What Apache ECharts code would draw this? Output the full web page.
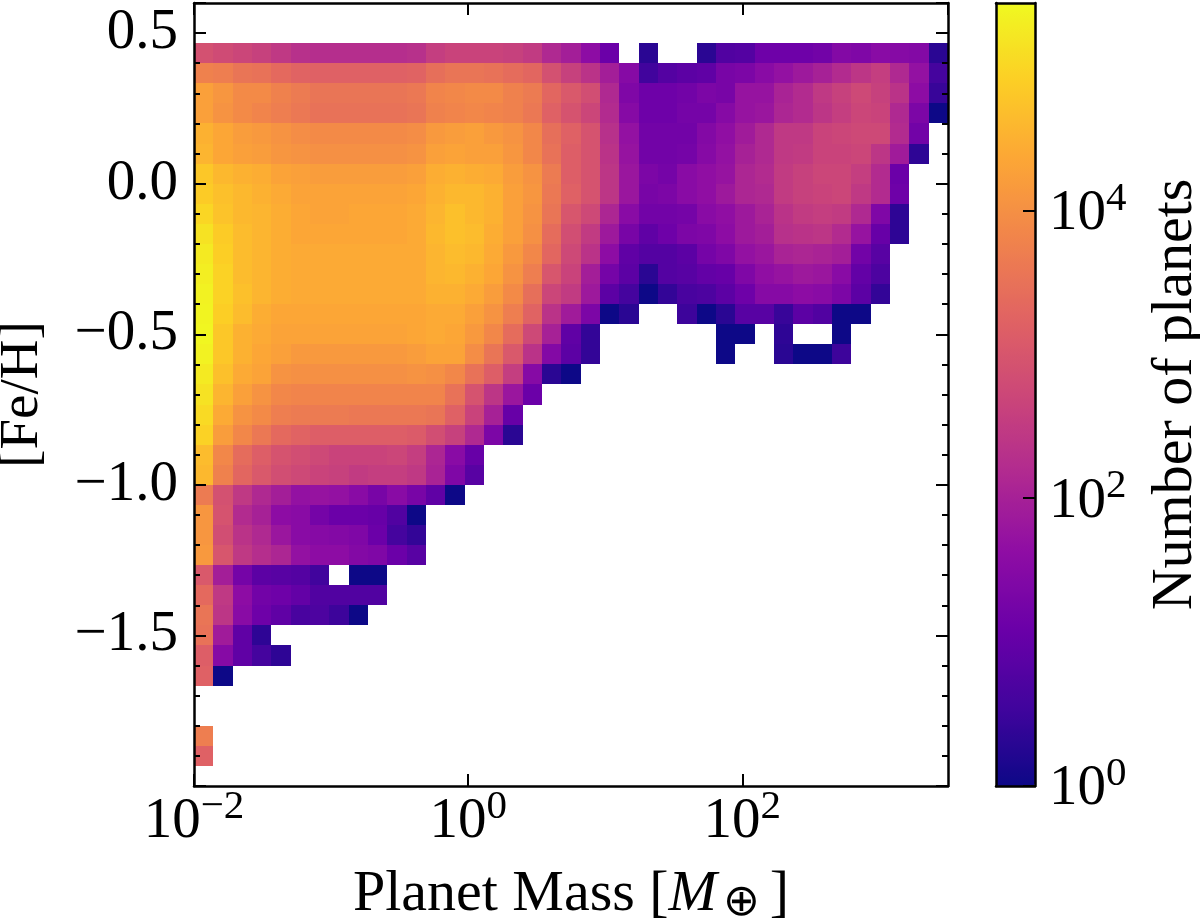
<!DOCTYPE html>
<html><head><meta charset="utf-8">
<style>html,body{margin:0;padding:0;background:#fff}#c{width:1200px;height:923px}</style>
<script src="https://cdn.jsdelivr.net/npm/echarts@6/dist/echarts.min.js"></script>
</head><body><div id="c"></div>
<script>
// log10(number of planets) per cell, one list per [Fe/H] row from the top (0.467) down; columns run from log10(M) = -2
var _ = null;
var row00=[2.9,2.8,2.7,2.6,2.45,2.3,2.25,2.25,2.25,2.25,2.25,2.3,2.55,2.65,2.65,2.65,2.6,2.5,2.15,1.95,1.6,1.1,_,.3,_,_,.3,.75,.8,1.15,1.15,1.15,1.2,1.45,1.4,1.55,1.5,1.45,.3];
var row01=[3.75,3.7,3.55,3.5,3.35,3.25,3.2,3.2,3.2,3.2,3.2,3.25,3.45,3.55,3.55,3.5,3.4,3.3,2.9,2.6,2.35,1.95,1.5,.55,.8,.9,.95,1.3,1.35,1.55,1.7,1.85,2.0,2.2,2.4,2.55,2.15,1.7,.6];
var row02=[4.25,4.1,3.9,3.9,3.75,3.65,3.55,3.55,3.55,3.55,3.55,3.6,3.8,3.85,3.9,3.9,3.75,3.65,3.3,3.05,2.85,2.15,1.4,1.15,1.15,1.2,1.35,1.3,1.75,1.75,2.05,2.2,2.45,2.6,2.75,2.6,2.35,1.6,.45];
var row03=[4.25,4.05,3.9,3.8,3.7,3.6,3.5,3.5,3.5,3.5,3.5,3.55,3.75,3.8,3.85,3.8,3.75,3.6,3.2,2.95,2.7,2.2,1.5,1.15,1.15,1.25,1.25,1.5,1.75,1.8,2.1,2.2,2.4,2.55,2.7,2.65,2.15,1.35,0];
var row04=[4.5,4.35,4.2,4.15,4.05,3.95,3.9,3.9,3.9,3.9,3.9,3.95,4.15,4.2,4.25,4.15,4.05,3.85,3.45,3.2,2.95,2.3,1.7,1.2,1.2,1.2,1.45,1.65,1.9,2.15,2.45,2.45,2.65,2.7,2.75,2.75,2.2,1.2];
var row05=[4.55,4.35,4.25,4.2,4.1,4.05,4.0,4.0,4.0,4.0,4.0,4.05,4.25,4.3,4.25,4.25,4.1,3.85,3.5,3.15,2.95,2.35,1.75,1.2,1.2,1.25,1.5,1.7,2.0,2.15,2.45,2.5,2.65,2.65,2.7,2.4,1.9,.35];
var row06=[4.8,4.6,4.5,4.45,4.3,4.25,4.2,4.2,4.2,4.2,4.2,4.25,4.45,4.5,4.45,4.4,4.2,4.05,3.65,3.15,2.95,2.4,1.8,1.35,1.25,1.55,1.65,1.75,2.1,2.2,2.5,2.6,2.7,2.7,2.55,2.2,1.1];
var row07=[4.85,4.7,4.6,4.5,4.4,4.3,4.3,4.3,4.3,4.3,4.3,4.35,4.5,4.6,4.6,4.5,4.25,4.1,3.6,3.2,2.95,2.4,1.8,1.3,1.35,1.55,1.65,1.85,2.1,2.15,2.5,2.6,2.65,2.7,2.45,2.2,1.15];
var row08=[5.0,4.75,4.6,4.55,4.45,4.35,4.3,4.3,4.35,4.35,4.35,4.4,4.55,4.7,4.6,4.5,4.25,4.05,3.55,3.0,2.75,2.1,1.55,1.2,1.2,1.25,1.55,1.65,1.85,2.05,2.35,2.5,2.55,2.5,2.15,1.4,.35];
var row09=[5.15,4.85,4.65,4.55,4.45,4.35,4.35,4.35,4.35,4.35,4.35,4.4,4.6,4.7,4.65,4.45,4.25,4.0,3.4,2.85,2.5,1.85,1.3,.95,1.15,1.35,1.4,1.6,1.85,1.95,2.3,2.35,2.4,2.2,1.75,1.05,.35];
var row10=[5.25,4.9,4.65,4.55,4.45,4.4,4.4,4.4,4.4,4.4,4.4,4.4,4.55,4.65,4.6,4.4,4.15,3.85,3.3,2.75,2.35,1.6,.95,.8,.8,.9,1.25,1.4,1.7,1.8,2.05,2.1,2.05,1.95,1.2,.85];
var row11=[5.3,4.95,4.65,4.55,4.45,4.4,4.4,4.4,4.4,4.4,4.4,4.4,4.55,4.6,4.5,4.35,4.05,3.7,3.0,2.65,1.95,1.25,.9,.3,.8,.85,1.0,1.05,1.4,1.65,1.75,1.85,1.8,1.55,1.0,.7];
var row12=[5.35,4.95,4.7,4.55,4.45,4.4,4.4,4.4,4.4,4.4,4.4,4.4,4.5,4.5,4.4,4.2,3.9,3.45,2.7,2.5,1.85,.9,.6,0,.4,.65,.7,.9,1.15,1.5,1.5,1.6,1.55,1.35,.9,.4];
var row13=[5.38,4.9,4.65,4.45,4.35,4.35,4.35,4.35,4.35,4.35,4.35,4.35,4.4,4.4,4.25,4.05,3.7,3.25,2.35,1.9,1.35,0,.3,_,_,.5,0,.3,.85,.85,.45,.9,.75,0,0];
var row14=[5.4,4.8,4.5,4.4,4.3,4.3,4.3,4.3,4.3,4.3,4.3,4.35,4.4,4.35,4.15,3.85,3.4,2.75,2.0,.95,.4,_,_,_,_,_,_,0,0,_,.35,_,_,0];
var row15=[5.35,4.8,4.5,4.35,4.25,4.15,4.15,4.15,4.15,4.15,4.15,4.2,4.3,4.3,3.95,3.55,3.05,2.35,1.45,.9,.4,_,_,_,_,_,_,0,_,_,.3,0,0,.5];
var row16=[5.25,4.7,4.4,4.3,4.05,4.0,4.0,4.0,4.0,4.0,4.0,4.05,4.0,3.85,3.5,3.15,2.55,1.5,.3,0];
var row17=[5.15,4.55,4.25,4.05,3.85,3.8,3.8,3.8,3.8,3.8,3.8,3.8,3.8,3.5,2.95,2.4,1.8,1.1];
var row18=[5.05,4.4,4.05,3.9,3.7,3.65,3.65,3.65,3.6,3.6,3.6,3.6,3.55,3.2,2.65,2.0,1.05];
var row19=[4.95,4.2,3.85,3.6,3.35,3.25,3.15,3.15,3.15,3.15,3.15,3.1,2.85,2.6,2.15,1.35,.3];
var row20=[4.65,3.85,3.4,3.15,2.95,2.85,2.75,2.65,2.65,2.65,2.7,2.55,2.1,1.55,1.05];
var row21=[4.6,3.75,3.3,3.05,2.85,2.75,2.65,2.6,2.5,2.55,2.55,2.45,2.05,1.4,.85];
var row22=[3.65,2.9,2.45,2.15,1.95,1.7,1.75,1.7,1.55,1.3,1.55,1.3,.95,0];
var row23=[4.1,2.95,2.2,2.0,1.6,1.55,1.25,1.1,1.1,1.05,.75,0];
var row24=[4.1,2.85,2.35,2.15,1.8,1.55,1.5,1.45,1.4,1.1,.6,.4];
var row25=[4.15,3.0,2.45,2.25,2.1,1.7,1.6,1.6,1.45,1.4,1.1,.85];
var row26=[3.05,1.95,1.25,.9,.85,.8,.55,_,0,0];
var row27=[3.35,2.45,1.6,1.2,1.15,1.0,.75,.75,.75,.75];
var row28=[3.55,2.4,1.55,1.15,.95,.65,.7,.5,0];
var row29=[3.5,1.9,.95,.35];
var row30=[3.15,1.5,.95,.6,.35];
var row31=[3.2,0];
var row32=[];
var row33=[];
var row34=[3.7];
var row35=[3.2];
var rows=[row00,row01,row02,row03,row04,row05,row06,row07,row08,row09,row10,row11,row12,row13,row14,row15,row16,row17,row18,row19,row20,row21,row22,row23,row24,row25,row26,row27,row28,row29,row30,row31,row32,row33,row34,row35];

var xTickLabels={'0.01':'{n|10}{s|−2}','1':'{n|10}{s|0}','100':'{n|10}{s|2}'};
var yTickLabels={'0.5':'0.5','0':'0.0','-0.5':'−0.5','-1':'−1.0','-1.5':'−1.5'};
var cbTickLabels={'1':'{n|10}{s|0}','100':'{n|10}{s|2}','10000':'{n|10}{s|4}'};
var plasma=['#0d0887','#41049d','#6a00a8','#8f0da4','#b12a90','#cc4778','#e16462','#f1844b','#fca636','#fcce25','#f0f921'];

var logMassMin=-2, logMassMax=3.5, feMin=-2, feMax=0.6, binCount=39, logCountMax=5.44;
var dx=(logMassMax-logMassMin)/binCount, dy=(feMax-feMin)/binCount, topEdge=feMin+37*dy;
var cells=[];
rows.forEach(function(r,i){r.forEach(function(v,j){
  if(v===null)return;
  cells.push([Math.pow(10,logMassMin+j*dx),Math.pow(10,logMassMin+(j+1)*dx),topEdge-(i+1)*dy,topEdge-i*dy,v]);
});});

var serif='"Liberation Serif","Times New Roman",serif', black='#000';
var rich={n:{fontFamily:serif,fontSize:57,lineHeight:64,color:black,verticalAlign:'bottom'},
          s:{fontFamily:serif,fontSize:41,lineHeight:36,color:black,verticalAlign:'top'}};
function lineS(w){return {show:true,onZero:false,lineStyle:{color:black,width:w}};}
function tick(){return {show:true,inside:true,length:12,lineStyle:{color:black,width:2}};}
function minor(){return {show:true,length:6,splitNumber:5,lineStyle:{color:black,width:2}};}

var chart=echarts.init(document.getElementById('c'),null,{renderer:'canvas'});
chart.setOption({
  animation:false,backgroundColor:'#fff',
  grid:[{left:194,top:3,width:754,height:783,containLabel:false,outerBoundsMode:'none'},
        {left:996,top:3,width:39,height:783,containLabel:false,outerBoundsMode:'none'}],
  visualMap:{type:'continuous',show:true,seriesIndex:0,dimension:4,min:0,max:logCountMax,calculable:false,hoverLink:false,
    left:996,top:3,padding:0,itemWidth:39,itemHeight:783,text:null,inRange:{color:plasma},z:1},
  xAxis:[
    {type:'log',gridIndex:0,position:'bottom',min:0.01,max:Math.pow(10,logMassMax),interval:2,z:10,
     axisLine:lineS(2.5),axisTick:tick(),splitLine:{show:false},minorTick:{show:false},
     axisLabel:{margin:1,hideOverlap:false,showMaxLabel:false,formatter:function(v){return xTickLabels[String(+(+v).toPrecision(4))]||'';},rich:rich},
     name:'{a|Planet Mass [}{i|M}{o|⊕}{b|]}',nameLocation:'middle',nameGap:78,
     nameTextStyle:{rich:{a:{fontFamily:serif,fontSize:58,color:black},b:{fontFamily:serif,fontSize:58,color:black,padding:[0,0,0,10]},i:{fontFamily:serif,fontStyle:'italic',fontSize:58,color:black},o:{fontFamily:'DejaVu Sans',fontSize:44,color:black,padding:[18,0,0,6]}}}},
    {type:'log',gridIndex:0,position:'top',min:0.01,max:Math.pow(10,logMassMax),interval:2,z:10,
     axisLine:lineS(2.5),axisTick:tick(),axisLabel:{show:false},splitLine:{show:false}},
    {type:'value',gridIndex:1,position:'bottom',min:0,max:1,z:10,axisLine:lineS(2.5),axisTick:{show:false},axisLabel:{show:false},splitLine:{show:false}},
    {type:'value',gridIndex:1,position:'top',min:0,max:1,z:10,axisLine:lineS(2.5),axisTick:{show:false},axisLabel:{show:false},splitLine:{show:false}}
  ],
  yAxis:[
    {type:'value',gridIndex:0,position:'left',min:feMin,max:feMax,interval:0.5,z:10,
     axisLine:lineS(2.5),axisTick:tick(),minorTick:minor(),splitLine:{show:false},minorSplitLine:{show:false},
     axisLabel:{margin:16,fontFamily:serif,fontSize:57,color:black,formatter:function(v){return yTickLabels[String(+(+v).toFixed(2))]||'';}},
     name:'[Fe/H]',nameLocation:'middle',nameRotate:90,nameGap:144,nameTextStyle:{fontFamily:serif,fontSize:55,color:black}},
    {type:'value',gridIndex:0,position:'right',min:feMin,max:feMax,interval:0.5,z:10,
     axisLine:lineS(2.5),axisTick:tick(),minorTick:minor(),splitLine:{show:false},minorSplitLine:{show:false},axisLabel:{show:false}},
    {type:'log',gridIndex:1,position:'left',min:1,max:Math.pow(10,logCountMax),z:10,axisLine:lineS(2.5),axisTick:{show:false},axisLabel:{show:false},splitLine:{show:false}},
    {type:'log',gridIndex:1,position:'right',min:1,max:Math.pow(10,logCountMax),interval:2,z:10,
     axisLine:lineS(2.5),axisTick:tick(),splitLine:{show:false},minorTick:{show:false},
     axisLabel:{margin:14,showMaxLabel:false,hideOverlap:false,formatter:function(v){return cbTickLabels[String(+(+v).toPrecision(4))]||'';},rich:rich},
     name:'Number of planets',nameLocation:'middle',nameRotate:90,nameGap:112,nameTextStyle:{fontFamily:serif,fontSize:58,color:black}}
  ],
  series:[
    {type:'custom',xAxisIndex:0,yAxisIndex:0,coordinateSystem:'cartesian2d',clip:true,silent:true,
     encode:{x:[0,1],y:[2,3]},data:cells,z:2,
     renderItem:function(p,api){
       var a=api.coord([api.value(0),api.value(3)]),b=api.coord([api.value(1),api.value(2)]),c=api.visual('color');
       var x0=Math.round(a[0]),y0=Math.round(a[1]),x1=Math.round(b[0]),y1=Math.round(b[1]);
       return {type:'rect',shape:{x:x0,y:y0,width:x1-x0,height:y1-y0},style:{fill:c}};
     }},
    {type:'custom',xAxisIndex:2,yAxisIndex:3,data:[],renderItem:function(){return {type:'group'};}}
  ]
});
</script></body></html>
